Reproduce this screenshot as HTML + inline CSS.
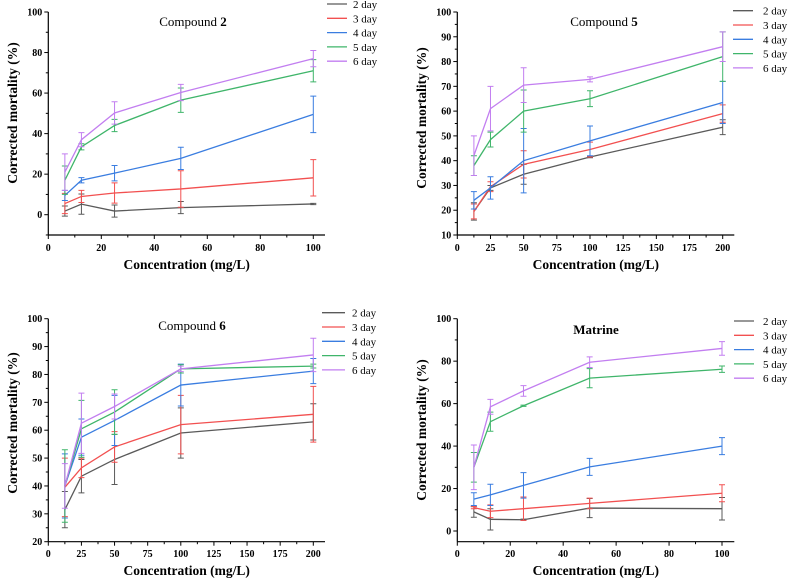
<!DOCTYPE html>
<html><head><meta charset="utf-8">
<style>
html,body{margin:0;padding:0;background:#fff;}
svg{display:block;font-family:"Liberation Serif",serif;}
</style></head>
<body>
<svg id="fig" width="792" height="580" viewBox="0 0 792 580"></svg>
<script>
const days = ["2 day","3 day","4 day","5 day","6 day"];
const colors = ["#5a5a5a","#f25050","#3a7de0","#3fb56a","#c27ef0"];

const p1x = [6.25,12.5,25,50,100];
const p1y = [[1.8,5.2,1.8,3.5,5.3],[5.5,9,10.7,12.7,18.2],[9.5,17,20.5,27.8,49.5],[17,33.5,44,56.5,71],[21,37,50.2,60.3,77]];
const p1e = [[2.5,5,3,3,0.3],[5,3,5,9,9],[2.5,1.3,3.8,5.5,9],[7,1.5,3,6,5.5],[9,3.5,5.5,4,4]];
const p1xt = [0,20,40,60,80,100];
const p1yt = [0,20,40,60,80,100];

const p2x = [12.5,25,50,100,200];
const p2y = [[19.5,29,34.5,41.5,53.5],[19.5,29.5,38.5,44.5,59],[24,29,40,48,63.5],[38,48.5,60,65,82],[42,61,70.5,72.8,86]];
const p2e = [[3.5,1,4,0.3,3],[3,2,5.5,3,3.5],[3.5,4.5,13,6,8.5],[4,3,8.5,3.2,10],[8,9,7,1,6]];
const p2xt = [0,25,50,75,100,125,150,175,200];
const p2yt = [10,20,30,40,50,60,70,80,90,100];

const p3x = [12.5,25,50,100,200];
const p3y = [[31.5,43.5,49.5,59,63],[39.5,46.5,54,62,65.7],[40,57.5,63.5,76.2,81.2],[40,60.5,66.5,82,83],[40,62.5,68.5,82,87]];
const p3e = [[6.5,6,9,9,6.5],[10.5,3.5,5.5,10.5,10],[11.5,6.5,9,7.5,4.5],[13,10.2,8,1.5,0.7],[8,10.8,4.5,1,6]];
const p3xt = [0,25,50,75,100,125,150,175,200];
const p3yt = [20,30,40,50,60,70,80,90,100];

const p4x = [6.25,12.5,25,50,100];
const p4y = [[9,5.5,5.3,10.8,10.5],[11,9.3,10.5,13,17.8],[15,17,21.5,30.2,40],[30,51.5,59,72,76.2],[30,58.5,66,79.5,86]];
const p4e = [[2.5,5,0.3,4.5,5.3],[0.5,3,5.5,2.5,4],[3,5,6,4,4],[7,4.5,0.3,4.5,1.5],[10.5,3.5,2.5,2.5,3.2]];
const p4xt = [0,20,40,60,80,100];
const p4yt = [0,20,40,60,80,100];

const NS="http://www.w3.org/2000/svg";
const svg=document.getElementById('fig');
function mk(tag,attrs,parent,text){const e=document.createElementNS(NS,tag);for(const k in attrs)e.setAttribute(k,attrs[k]);if(text!==undefined)e.textContent=text;(parent||svg).appendChild(e);return e;}

const panels=[
 {id:"compound-2",title:["Compound ","2"],bold:false,xs:p1x,ys:p1y,es:p1e,xt:p1xt,yt:p1yt,
  ax:48.3,x0:0,x1:100,px0:48.3,px1:313.3,axEnd:325,y0:0,y1:100,py0:214.7,py1:12,axBot:235,yMin:-10,
  tickY:251,xtitleY:269,ytitleX:17,ytitleY:113,tx:193,ty:26,lx1:327,lx2:347,ltx:353,ly:4},
 {id:"compound-5",title:["Compound ","5"],bold:false,xs:p2x,ys:p2y,es:p2e,xt:p2xt,yt:p2yt,
  ax:457.3,x0:0,x1:200,px0:457.3,px1:722.7,axEnd:734.3,y0:10,y1:100,py0:235,py1:12,axBot:235,yMin:10,
  tickY:251,xtitleY:269,ytitleX:426,ytitleY:118,tx:604,ty:26,lx1:733,lx2:753,ltx:763,ly:10.7},
 {id:"compound-6",title:["Compound ","6"],bold:false,xs:p3x,ys:p3y,es:p3e,xt:p3xt,yt:p3yt,
  ax:48.3,x0:0,x1:200,px0:48.3,px1:313.3,axEnd:325,y0:20,y1:100,py0:541.7,py1:318.7,axBot:541.7,yMin:20,
  tickY:557,xtitleY:575,ytitleX:17,ytitleY:423,tx:192,ty:330,lx1:322,lx2:345,ltx:352,ly:312.7},
 {id:"matrine",title:["Matrine",""],bold:true,xs:p4x,ys:p4y,es:p4e,xt:p4xt,yt:p4yt,
  ax:457.3,x0:0,x1:100,px0:457.3,px1:722,axEnd:734.3,y0:0,y1:100,py0:531,py1:318.7,axBot:541.7,yMin:-5,
  tickY:557,xtitleY:575,ytitleX:426,ytitleY:430,tx:596,ty:334,lx1:734,lx2:754,ltx:763,ly:321}
];

panels.forEach(P=>{
 const g=mk('g',{});
 
 
 const X=v=>P.px0+(v-P.x0)*(P.px1-P.px0)/(P.x1-P.x0);
 const Y=v=>P.py0+(v-P.y0)*(P.py1-P.py0)/(P.y1-P.y0);
 // axes
 const ya=mk('line',{x1:P.ax,y1:P.py1,x2:P.ax,y2:P.axBot,stroke:'#000','stroke-width':1.2},g);
 
 const xa=mk('line',{x1:P.ax,y1:P.axBot,x2:P.axEnd,y2:P.axBot,stroke:'#000','stroke-width':1.2},g);
 
 const dx=P.xt[1]-P.xt[0], dy=P.yt[1]-P.yt[0];
 P.xt.forEach((t,i)=>{
  mk('line',{x1:X(t),y1:P.axBot,x2:X(t),y2:P.axBot+4,stroke:'#000','stroke-width':1},g);
  if(i<P.xt.length-1||X(t+dx/2)<P.axEnd) mk('line',{x1:X(t+dx/2),y1:P.axBot,x2:X(t+dx/2),y2:P.axBot+2.5,stroke:'#000','stroke-width':1},g);
  const tl=mk('text',{x:X(t),y:P.tickY,'font-size':10,'font-weight':'bold','text-anchor':'middle'},g,String(t));
  
 });
 P.yt.forEach((t,i)=>{
  mk('line',{x1:P.ax-4,y1:Y(t),x2:P.ax,y2:Y(t),stroke:'#000','stroke-width':1},g);
  if(Y(t-dy/2)<=P.axBot+0.5) mk('line',{x1:P.ax-2.5,y1:Y(t-dy/2),x2:P.ax,y2:Y(t-dy/2),stroke:'#000','stroke-width':1},g);
  const tl=mk('text',{x:P.ax-6,y:Y(t)+3.5,'font-size':10,'font-weight':'bold','text-anchor':'end'},g,String(t));
  
 });
 const xtt=mk('text',{x:(P.ax+P.axEnd)/2,y:P.xtitleY,'font-size':13.5,'font-weight':'bold','text-anchor':'middle'},g,'Concentration (mg/L)');
 
 const ytt=mk('text',{x:P.ytitleX,y:P.ytitleY,'font-size':13.5,'font-weight':'bold','text-anchor':'middle',transform:`rotate(-90 ${P.ytitleX} ${P.ytitleY})`},g,'Corrected mortality (%)');
 
 const tt=mk('text',{x:P.tx,y:P.ty,'font-size':13,'text-anchor':'middle','font-weight':P.bold?'bold':'normal'},g);
 
 mk('tspan',{},tt,P.title[0]);
 if(P.title[1]) mk('tspan',{'font-weight':'bold'},tt,P.title[1]);
 // series
 P.ys.forEach((ser,s)=>{
  const sg=mk('g',{},g);
  
  
  const pts=ser.map((v,i)=>X(P.xs[i])+','+Y(v)).join(' ');
  const pl=mk('polyline',{points:pts,fill:'none',stroke:colors[s],'stroke-width':1.3},sg);
  
  
  ser.forEach((v,i)=>{
   const x=X(P.xs[i]),e=P.es[s][i];
   const yt=Y(v+e),yb=Y(Math.max(v-e,P.yMin));
   const eb=mk('path',{d:`M${x},${yt}V${yb}M${x-3},${yt}H${x+3}M${x-3},${yb}H${x+3}`,stroke:colors[s],'stroke-width':1,fill:'none'},sg);
   
   
  });
 });
 // legend
 const lg=mk('g',{},g);
 
 
 days.forEach((d,s)=>{
  const y=P.ly+s*14.3;
  const le=mk('g',{},lg);
  
  
  mk('line',{x1:P.lx1,y1:y,x2:P.lx2,y2:y,stroke:colors[s],'stroke-width':1.3},le);
  mk('text',{x:P.ltx,y:y+4,'font-size':11},le,d);
 });
});
</script>
</body></html>
